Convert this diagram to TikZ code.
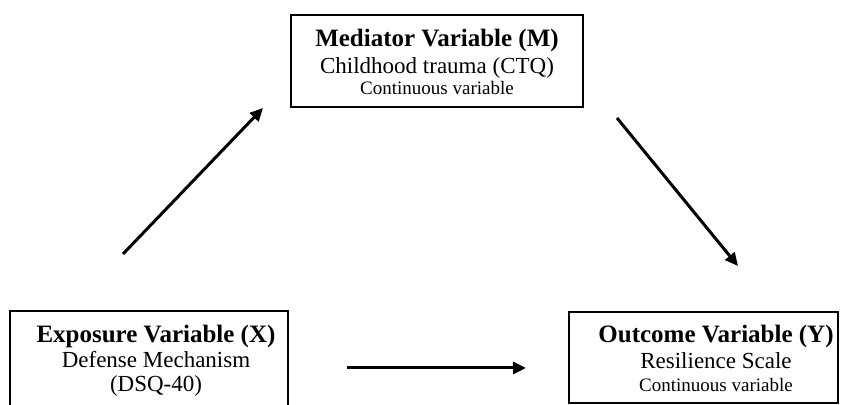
\documentclass[tikz,border=0pt]{standalone}
\usepackage{fontspec}
\setmainfont{Liberation Serif}
\usetikzlibrary{arrows.meta}

\tikzset{
  varbox/.style={draw, line width=0.65pt, rectangle, inner sep=0pt},
  vartitle/.style={anchor=base, inner sep=0pt, font=\fontsize{12.5pt}{15pt}\selectfont\bfseries},
  varsub/.style={anchor=base, inner sep=0pt, font=\fontsize{11.5pt}{14pt}\selectfont},
  varnote/.style={anchor=base, inner sep=0pt, font=\fontsize{9.5pt}{11pt}\selectfont},
  link/.style={line width=1.5pt, -{Triangle[length=6.5pt,width=6pt]}}
}

\begin{document}
\begin{tikzpicture}[x=0.5pt, y=-0.5pt]
      % Fix the frame of the picture
      \useasboundingbox (0,0) rectangle (853,405);
      \clip (0,0) rectangle (853,405);

      % Draw the mediator box
      \node[varbox, minimum width=146pt, minimum height=46pt] (mbox) at (437,61) {};
      \node[vartitle] (mtitle) at (437,47) {Mediator Variable (M)};
      \node[varsub] (msub) at (437,74) {Childhood trauma (CTQ)};
      \node[varnote] (mnote) at (437,95) {Continuous variable};

      % Draw the exposure box (runs past the bottom edge)
      \node[varbox, minimum width=139pt, minimum height=65pt] (xbox) at (149,376) {};
      \node[vartitle] (xtitle) at (156,343) {Exposure Variable (X)};
      \node[varsub] (xsub) at (156,368) {Defense Mechanism};
      \node[varsub] (xnote) at (156,392) {(DSQ-40)};

      % Draw the outcome box
      \node[varbox, minimum width=134.5pt, minimum height=45.5pt] (ybox) at (703.5,357.5) {};
      \node[vartitle] (ytitle) at (716,343) {Outcome Variable (Y)};
      \node[varsub] (ysub) at (716,369) {Resilience Scale};
      \node[varnote] (ynote) at (716,392) {Continuous variable};

      % Arrow ends
      \coordinate (xmstart) at (123,254);
      \coordinate (xmend) at (263,108);
      \coordinate (mystart) at (617,118);
      \coordinate (myend) at (738,266);
      \coordinate (xystart) at (347,368);
      \coordinate (xyend) at (526,368);

      % Draw the paths
      \draw[link] (xmstart) -- (xmend);
      \draw[link] (mystart) -- (myend);
      \draw[link] (xystart) -- (xyend);
  \end{tikzpicture}
\end{document}
